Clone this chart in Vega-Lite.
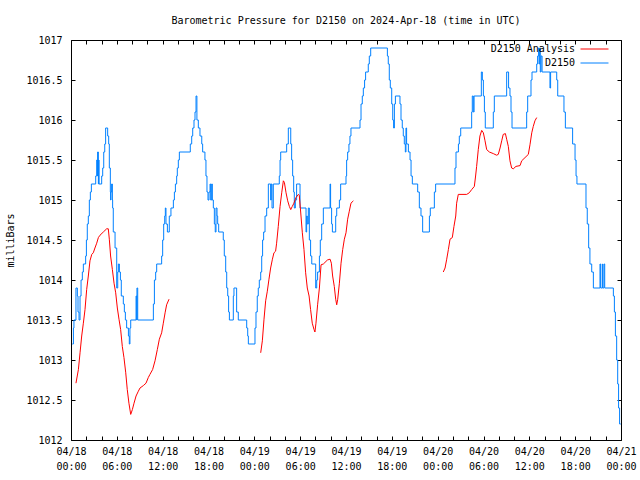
{
  "$schema": "https://vega.github.io/schema/vega-lite/v6.json",
  "width": 550,
  "height": 400,
  "autosize": {"type": "none"},
  "padding": {"left": 71, "top": 40, "right": 19, "bottom": 40},
  "background": "white",
  "title": {"text": "Barometric Pressure for D2150 on 2024-Apr-18 (time in UTC)", "font": "DejaVu Sans Mono", "fontSize": 10, "fontWeight": "normal", "color": "black", "offset": 9},
  "config": {
    "view": {"stroke": "black", "strokeWidth": 1},
    "font": "DejaVu Sans Mono",
    "axis": {"domain": false, "grid": false, "tickColor": "black", "tickSize": -4, "labelColor": "black", "labelFont": "DejaVu Sans Mono", "labelFontSize": 10, "titleFont": "DejaVu Sans Mono", "titleFontSize": 10, "titleFontWeight": "normal", "titleColor": "black"},
    "legend": {"labelFont": "DejaVu Sans Mono", "labelFontSize": 10, "labelColor": "black"}
  },
  "data": {"values": [
    {"series":"D2150","seg":1,"time":"2024-04-18T00:10:00Z","mbar":1013.2},
    {"series":"D2150","seg":1,"time":"2024-04-18T00:19:00Z","mbar":1013.4},
    {"series":"D2150","seg":1,"time":"2024-04-18T00:23:00Z","mbar":1013.5},
    {"series":"D2150","seg":1,"time":"2024-04-18T00:39:00Z","mbar":1013.9},
    {"series":"D2150","seg":1,"time":"2024-04-18T00:50:00Z","mbar":1013.8},
    {"series":"D2150","seg":1,"time":"2024-04-18T00:55:00Z","mbar":1013.6},
    {"series":"D2150","seg":1,"time":"2024-04-18T01:03:00Z","mbar":1013.5},
    {"series":"D2150","seg":1,"time":"2024-04-18T01:11:00Z","mbar":1013.8},
    {"series":"D2150","seg":1,"time":"2024-04-18T01:19:00Z","mbar":1014.0},
    {"series":"D2150","seg":1,"time":"2024-04-18T01:29:00Z","mbar":1014.1},
    {"series":"D2150","seg":1,"time":"2024-04-18T01:37:00Z","mbar":1014.2},
    {"series":"D2150","seg":1,"time":"2024-04-18T01:55:00Z","mbar":1014.3},
    {"series":"D2150","seg":1,"time":"2024-04-18T02:01:00Z","mbar":1014.5},
    {"series":"D2150","seg":1,"time":"2024-04-18T02:08:00Z","mbar":1014.7},
    {"series":"D2150","seg":1,"time":"2024-04-18T02:16:00Z","mbar":1014.8},
    {"series":"D2150","seg":1,"time":"2024-04-18T02:24:00Z","mbar":1015.0},
    {"series":"D2150","seg":1,"time":"2024-04-18T02:32:00Z","mbar":1015.1},
    {"series":"D2150","seg":1,"time":"2024-04-18T02:40:00Z","mbar":1015.2},
    {"series":"D2150","seg":1,"time":"2024-04-18T03:14:00Z","mbar":1015.3},
    {"series":"D2150","seg":1,"time":"2024-04-18T03:22:00Z","mbar":1015.5},
    {"series":"D2150","seg":1,"time":"2024-04-18T03:27:00Z","mbar":1015.3},
    {"series":"D2150","seg":1,"time":"2024-04-18T03:29:00Z","mbar":1015.6},
    {"series":"D2150","seg":1,"time":"2024-04-18T03:35:00Z","mbar":1015.2},
    {"series":"D2150","seg":1,"time":"2024-04-18T03:38:00Z","mbar":1015.5},
    {"series":"D2150","seg":1,"time":"2024-04-18T03:40:00Z","mbar":1015.2},
    {"series":"D2150","seg":1,"time":"2024-04-18T04:01:00Z","mbar":1015.3},
    {"series":"D2150","seg":1,"time":"2024-04-18T04:09:00Z","mbar":1015.4},
    {"series":"D2150","seg":1,"time":"2024-04-18T04:17:00Z","mbar":1015.6},
    {"series":"D2150","seg":1,"time":"2024-04-18T04:25:00Z","mbar":1015.7},
    {"series":"D2150","seg":1,"time":"2024-04-18T04:32:00Z","mbar":1015.9},
    {"series":"D2150","seg":1,"time":"2024-04-18T04:48:00Z","mbar":1015.8},
    {"series":"D2150","seg":1,"time":"2024-04-18T04:56:00Z","mbar":1015.7},
    {"series":"D2150","seg":1,"time":"2024-04-18T05:01:00Z","mbar":1015.4},
    {"series":"D2150","seg":1,"time":"2024-04-18T05:09:00Z","mbar":1015.1},
    {"series":"D2150","seg":1,"time":"2024-04-18T05:11:00Z","mbar":1015.0},
    {"series":"D2150","seg":1,"time":"2024-04-18T05:14:00Z","mbar":1015.1},
    {"series":"D2150","seg":1,"time":"2024-04-18T05:19:00Z","mbar":1015.2},
    {"series":"D2150","seg":1,"time":"2024-04-18T05:25:00Z","mbar":1015.0},
    {"series":"D2150","seg":1,"time":"2024-04-18T05:27:00Z","mbar":1014.9},
    {"series":"D2150","seg":1,"time":"2024-04-18T05:32:00Z","mbar":1014.6},
    {"series":"D2150","seg":1,"time":"2024-04-18T05:46:00Z","mbar":1014.4},
    {"series":"D2150","seg":1,"time":"2024-04-18T05:59:00Z","mbar":1013.9},
    {"series":"D2150","seg":1,"time":"2024-04-18T06:07:00Z","mbar":1014.1},
    {"series":"D2150","seg":1,"time":"2024-04-18T06:12:00Z","mbar":1014.2},
    {"series":"D2150","seg":1,"time":"2024-04-18T06:20:00Z","mbar":1014.1},
    {"series":"D2150","seg":1,"time":"2024-04-18T06:28:00Z","mbar":1014.0},
    {"series":"D2150","seg":1,"time":"2024-04-18T06:35:00Z","mbar":1013.8},
    {"series":"D2150","seg":1,"time":"2024-04-18T06:51:00Z","mbar":1013.7},
    {"series":"D2150","seg":1,"time":"2024-04-18T06:59:00Z","mbar":1013.6},
    {"series":"D2150","seg":1,"time":"2024-04-18T07:07:00Z","mbar":1013.5},
    {"series":"D2150","seg":1,"time":"2024-04-18T07:17:00Z","mbar":1013.4},
    {"series":"D2150","seg":1,"time":"2024-04-18T07:31:00Z","mbar":1013.3},
    {"series":"D2150","seg":1,"time":"2024-04-18T07:38:00Z","mbar":1013.2},
    {"series":"D2150","seg":1,"time":"2024-04-18T07:43:00Z","mbar":1013.4},
    {"series":"D2150","seg":1,"time":"2024-04-18T07:49:00Z","mbar":1013.5},
    {"series":"D2150","seg":1,"time":"2024-04-18T08:31:00Z","mbar":1013.8},
    {"series":"D2150","seg":1,"time":"2024-04-18T08:36:00Z","mbar":1013.5},
    {"series":"D2150","seg":1,"time":"2024-04-18T08:38:00Z","mbar":1013.9},
    {"series":"D2150","seg":1,"time":"2024-04-18T08:44:00Z","mbar":1013.5},
    {"series":"D2150","seg":1,"time":"2024-04-18T10:47:00Z","mbar":1013.7},
    {"series":"D2150","seg":1,"time":"2024-04-18T10:55:00Z","mbar":1014.0},
    {"series":"D2150","seg":1,"time":"2024-04-18T11:05:00Z","mbar":1014.1},
    {"series":"D2150","seg":1,"time":"2024-04-18T11:13:00Z","mbar":1014.2},
    {"series":"D2150","seg":1,"time":"2024-04-18T11:52:00Z","mbar":1014.3},
    {"series":"D2150","seg":1,"time":"2024-04-18T12:00:00Z","mbar":1014.5},
    {"series":"D2150","seg":1,"time":"2024-04-18T12:08:00Z","mbar":1014.7},
    {"series":"D2150","seg":1,"time":"2024-04-18T12:16:00Z","mbar":1014.8},
    {"series":"D2150","seg":1,"time":"2024-04-18T12:21:00Z","mbar":1014.9},
    {"series":"D2150","seg":1,"time":"2024-04-18T12:26:00Z","mbar":1014.7},
    {"series":"D2150","seg":1,"time":"2024-04-18T12:37:00Z","mbar":1014.6},
    {"series":"D2150","seg":1,"time":"2024-04-18T12:52:00Z","mbar":1014.8},
    {"series":"D2150","seg":1,"time":"2024-04-18T13:05:00Z","mbar":1014.9},
    {"series":"D2150","seg":1,"time":"2024-04-18T13:24:00Z","mbar":1015.0},
    {"series":"D2150","seg":1,"time":"2024-04-18T13:32:00Z","mbar":1015.1},
    {"series":"D2150","seg":1,"time":"2024-04-18T13:40:00Z","mbar":1015.2},
    {"series":"D2150","seg":1,"time":"2024-04-18T13:50:00Z","mbar":1015.3},
    {"series":"D2150","seg":1,"time":"2024-04-18T13:55:00Z","mbar":1015.4},
    {"series":"D2150","seg":1,"time":"2024-04-18T14:03:00Z","mbar":1015.5},
    {"series":"D2150","seg":1,"time":"2024-04-18T14:11:00Z","mbar":1015.6},
    {"series":"D2150","seg":1,"time":"2024-04-18T15:37:00Z","mbar":1015.7},
    {"series":"D2150","seg":1,"time":"2024-04-18T15:48:00Z","mbar":1015.8},
    {"series":"D2150","seg":1,"time":"2024-04-18T15:56:00Z","mbar":1015.9},
    {"series":"D2150","seg":1,"time":"2024-04-18T16:06:00Z","mbar":1016.0},
    {"series":"D2150","seg":1,"time":"2024-04-18T16:14:00Z","mbar":1016.1},
    {"series":"D2150","seg":1,"time":"2024-04-18T16:22:00Z","mbar":1016.3},
    {"series":"D2150","seg":1,"time":"2024-04-18T16:29:00Z","mbar":1016.0},
    {"series":"D2150","seg":1,"time":"2024-04-18T16:40:00Z","mbar":1015.9},
    {"series":"D2150","seg":1,"time":"2024-04-18T16:53:00Z","mbar":1015.8},
    {"series":"D2150","seg":1,"time":"2024-04-18T17:07:00Z","mbar":1015.7},
    {"series":"D2150","seg":1,"time":"2024-04-18T17:14:00Z","mbar":1015.6},
    {"series":"D2150","seg":1,"time":"2024-04-18T17:32:00Z","mbar":1015.5},
    {"series":"D2150","seg":1,"time":"2024-04-18T17:40:00Z","mbar":1015.3},
    {"series":"D2150","seg":1,"time":"2024-04-18T17:48:00Z","mbar":1015.1},
    {"series":"D2150","seg":1,"time":"2024-04-18T17:56:00Z","mbar":1015.0},
    {"series":"D2150","seg":1,"time":"2024-04-18T18:04:00Z","mbar":1015.1},
    {"series":"D2150","seg":1,"time":"2024-04-18T18:12:00Z","mbar":1015.2},
    {"series":"D2150","seg":1,"time":"2024-04-18T18:17:00Z","mbar":1015.0},
    {"series":"D2150","seg":1,"time":"2024-04-18T18:25:00Z","mbar":1015.2},
    {"series":"D2150","seg":1,"time":"2024-04-18T18:30:00Z","mbar":1015.0},
    {"series":"D2150","seg":1,"time":"2024-04-18T18:38:00Z","mbar":1014.9},
    {"series":"D2150","seg":1,"time":"2024-04-18T18:46:00Z","mbar":1014.7},
    {"series":"D2150","seg":1,"time":"2024-04-18T18:53:00Z","mbar":1014.6},
    {"series":"D2150","seg":1,"time":"2024-04-18T18:59:00Z","mbar":1014.9},
    {"series":"D2150","seg":1,"time":"2024-04-18T19:07:00Z","mbar":1014.8},
    {"series":"D2150","seg":1,"time":"2024-04-18T19:12:00Z","mbar":1014.7},
    {"series":"D2150","seg":1,"time":"2024-04-18T19:20:00Z","mbar":1014.6},
    {"series":"D2150","seg":1,"time":"2024-04-18T19:56:00Z","mbar":1014.5},
    {"series":"D2150","seg":1,"time":"2024-04-18T20:04:00Z","mbar":1014.3},
    {"series":"D2150","seg":1,"time":"2024-04-18T20:15:00Z","mbar":1014.1},
    {"series":"D2150","seg":1,"time":"2024-04-18T20:23:00Z","mbar":1013.9},
    {"series":"D2150","seg":1,"time":"2024-04-18T20:31:00Z","mbar":1013.8},
    {"series":"D2150","seg":1,"time":"2024-04-18T20:38:00Z","mbar":1013.6},
    {"series":"D2150","seg":1,"time":"2024-04-18T20:44:00Z","mbar":1013.5},
    {"series":"D2150","seg":1,"time":"2024-04-18T21:15:00Z","mbar":1013.8},
    {"series":"D2150","seg":1,"time":"2024-04-18T21:20:00Z","mbar":1013.9},
    {"series":"D2150","seg":1,"time":"2024-04-18T21:41:00Z","mbar":1013.6},
    {"series":"D2150","seg":1,"time":"2024-04-18T21:54:00Z","mbar":1013.5},
    {"series":"D2150","seg":1,"time":"2024-04-18T23:00:00Z","mbar":1013.4},
    {"series":"D2150","seg":1,"time":"2024-04-18T23:08:00Z","mbar":1013.3},
    {"series":"D2150","seg":1,"time":"2024-04-18T23:13:00Z","mbar":1013.2},
    {"series":"D2150","seg":1,"time":"2024-04-19T00:05:00Z","mbar":1013.4},
    {"series":"D2150","seg":1,"time":"2024-04-19T00:13:00Z","mbar":1013.6},
    {"series":"D2150","seg":1,"time":"2024-04-19T00:23:00Z","mbar":1013.8},
    {"series":"D2150","seg":1,"time":"2024-04-19T00:31:00Z","mbar":1013.9},
    {"series":"D2150","seg":1,"time":"2024-04-19T00:39:00Z","mbar":1014.0},
    {"series":"D2150","seg":1,"time":"2024-04-19T00:50:00Z","mbar":1014.1},
    {"series":"D2150","seg":1,"time":"2024-04-19T00:58:00Z","mbar":1014.3},
    {"series":"D2150","seg":1,"time":"2024-04-19T01:05:00Z","mbar":1014.5},
    {"series":"D2150","seg":1,"time":"2024-04-19T01:13:00Z","mbar":1014.6},
    {"series":"D2150","seg":1,"time":"2024-04-19T01:24:00Z","mbar":1014.8},
    {"series":"D2150","seg":1,"time":"2024-04-19T01:37:00Z","mbar":1014.9},
    {"series":"D2150","seg":1,"time":"2024-04-19T01:50:00Z","mbar":1015.2},
    {"series":"D2150","seg":1,"time":"2024-04-19T02:08:00Z","mbar":1015.0},
    {"series":"D2150","seg":1,"time":"2024-04-19T02:13:00Z","mbar":1015.2},
    {"series":"D2150","seg":1,"time":"2024-04-19T02:19:00Z","mbar":1014.9},
    {"series":"D2150","seg":1,"time":"2024-04-19T02:29:00Z","mbar":1015.2},
    {"series":"D2150","seg":1,"time":"2024-04-19T03:16:00Z","mbar":1015.3},
    {"series":"D2150","seg":1,"time":"2024-04-19T03:22:00Z","mbar":1015.5},
    {"series":"D2150","seg":1,"time":"2024-04-19T03:27:00Z","mbar":1015.6},
    {"series":"D2150","seg":1,"time":"2024-04-19T04:14:00Z","mbar":1015.7},
    {"series":"D2150","seg":1,"time":"2024-04-19T04:27:00Z","mbar":1015.9},
    {"series":"D2150","seg":1,"time":"2024-04-19T04:46:00Z","mbar":1015.7},
    {"series":"D2150","seg":1,"time":"2024-04-19T04:53:00Z","mbar":1015.5},
    {"series":"D2150","seg":1,"time":"2024-04-19T05:01:00Z","mbar":1015.3},
    {"series":"D2150","seg":1,"time":"2024-04-19T05:09:00Z","mbar":1015.1},
    {"series":"D2150","seg":1,"time":"2024-04-19T05:14:00Z","mbar":1014.9},
    {"series":"D2150","seg":1,"time":"2024-04-19T05:22:00Z","mbar":1015.0},
    {"series":"D2150","seg":1,"time":"2024-04-19T05:32:00Z","mbar":1015.2},
    {"series":"D2150","seg":1,"time":"2024-04-19T05:59:00Z","mbar":1014.9},
    {"series":"D2150","seg":1,"time":"2024-04-19T06:46:00Z","mbar":1014.6},
    {"series":"D2150","seg":1,"time":"2024-04-19T06:51:00Z","mbar":1014.8},
    {"series":"D2150","seg":1,"time":"2024-04-19T06:56:00Z","mbar":1014.7},
    {"series":"D2150","seg":1,"time":"2024-04-19T07:04:00Z","mbar":1014.9},
    {"series":"D2150","seg":1,"time":"2024-04-19T07:12:00Z","mbar":1014.5},
    {"series":"D2150","seg":1,"time":"2024-04-19T07:22:00Z","mbar":1014.3},
    {"series":"D2150","seg":1,"time":"2024-04-19T07:31:00Z","mbar":1014.2},
    {"series":"D2150","seg":1,"time":"2024-04-19T08:02:00Z","mbar":1013.9},
    {"series":"D2150","seg":1,"time":"2024-04-19T08:10:00Z","mbar":1014.0},
    {"series":"D2150","seg":1,"time":"2024-04-19T08:17:00Z","mbar":1014.1},
    {"series":"D2150","seg":1,"time":"2024-04-19T08:31:00Z","mbar":1014.3},
    {"series":"D2150","seg":1,"time":"2024-04-19T08:38:00Z","mbar":1014.5},
    {"series":"D2150","seg":1,"time":"2024-04-19T08:49:00Z","mbar":1014.7},
    {"series":"D2150","seg":1,"time":"2024-04-19T09:02:00Z","mbar":1014.9},
    {"series":"D2150","seg":1,"time":"2024-04-19T09:55:00Z","mbar":1015.2},
    {"series":"D2150","seg":1,"time":"2024-04-19T09:59:00Z","mbar":1014.9},
    {"series":"D2150","seg":1,"time":"2024-04-19T10:07:00Z","mbar":1014.7},
    {"series":"D2150","seg":1,"time":"2024-04-19T10:13:00Z","mbar":1014.6},
    {"series":"D2150","seg":1,"time":"2024-04-19T10:39:00Z","mbar":1014.8},
    {"series":"D2150","seg":1,"time":"2024-04-19T10:47:00Z","mbar":1014.9},
    {"series":"D2150","seg":1,"time":"2024-04-19T11:08:00Z","mbar":1015.0},
    {"series":"D2150","seg":1,"time":"2024-04-19T11:18:00Z","mbar":1015.2},
    {"series":"D2150","seg":1,"time":"2024-04-19T12:00:00Z","mbar":1015.3},
    {"series":"D2150","seg":1,"time":"2024-04-19T12:05:00Z","mbar":1015.5},
    {"series":"D2150","seg":1,"time":"2024-04-19T12:13:00Z","mbar":1015.6},
    {"series":"D2150","seg":1,"time":"2024-04-19T12:23:00Z","mbar":1015.7},
    {"series":"D2150","seg":1,"time":"2024-04-19T12:31:00Z","mbar":1015.8},
    {"series":"D2150","seg":1,"time":"2024-04-19T12:39:00Z","mbar":1015.9},
    {"series":"D2150","seg":1,"time":"2024-04-19T13:50:00Z","mbar":1016.0},
    {"series":"D2150","seg":1,"time":"2024-04-19T13:58:00Z","mbar":1016.2},
    {"series":"D2150","seg":1,"time":"2024-04-19T14:08:00Z","mbar":1016.3},
    {"series":"D2150","seg":1,"time":"2024-04-19T14:16:00Z","mbar":1016.4},
    {"series":"D2150","seg":1,"time":"2024-04-19T14:26:00Z","mbar":1016.5},
    {"series":"D2150","seg":1,"time":"2024-04-19T14:34:00Z","mbar":1016.6},
    {"series":"D2150","seg":1,"time":"2024-04-19T14:55:00Z","mbar":1016.7},
    {"series":"D2150","seg":1,"time":"2024-04-19T15:03:00Z","mbar":1016.8},
    {"series":"D2150","seg":1,"time":"2024-04-19T15:14:00Z","mbar":1016.9},
    {"series":"D2150","seg":1,"time":"2024-04-19T17:25:00Z","mbar":1016.8},
    {"series":"D2150","seg":1,"time":"2024-04-19T17:32:00Z","mbar":1016.7},
    {"series":"D2150","seg":1,"time":"2024-04-19T17:40:00Z","mbar":1016.5},
    {"series":"D2150","seg":1,"time":"2024-04-19T17:48:00Z","mbar":1016.4},
    {"series":"D2150","seg":1,"time":"2024-04-19T17:59:00Z","mbar":1016.2},
    {"series":"D2150","seg":1,"time":"2024-04-19T18:07:00Z","mbar":1016.0},
    {"series":"D2150","seg":1,"time":"2024-04-19T18:14:00Z","mbar":1015.9},
    {"series":"D2150","seg":1,"time":"2024-04-19T18:20:00Z","mbar":1016.2},
    {"series":"D2150","seg":1,"time":"2024-04-19T18:28:00Z","mbar":1016.3},
    {"series":"D2150","seg":1,"time":"2024-04-19T19:04:00Z","mbar":1016.2},
    {"series":"D2150","seg":1,"time":"2024-04-19T19:12:00Z","mbar":1016.0},
    {"series":"D2150","seg":1,"time":"2024-04-19T19:22:00Z","mbar":1015.9},
    {"series":"D2150","seg":1,"time":"2024-04-19T19:30:00Z","mbar":1015.8},
    {"series":"D2150","seg":1,"time":"2024-04-19T19:38:00Z","mbar":1015.7},
    {"series":"D2150","seg":1,"time":"2024-04-19T19:46:00Z","mbar":1015.6},
    {"series":"D2150","seg":1,"time":"2024-04-19T19:51:00Z","mbar":1015.9},
    {"series":"D2150","seg":1,"time":"2024-04-19T19:56:00Z","mbar":1015.7},
    {"series":"D2150","seg":1,"time":"2024-04-19T20:10:00Z","mbar":1015.6},
    {"series":"D2150","seg":1,"time":"2024-04-19T20:23:00Z","mbar":1015.5},
    {"series":"D2150","seg":1,"time":"2024-04-19T20:31:00Z","mbar":1015.3},
    {"series":"D2150","seg":1,"time":"2024-04-19T20:41:00Z","mbar":1015.2},
    {"series":"D2150","seg":1,"time":"2024-04-19T21:23:00Z","mbar":1015.1},
    {"series":"D2150","seg":1,"time":"2024-04-19T21:36:00Z","mbar":1014.9},
    {"series":"D2150","seg":1,"time":"2024-04-19T21:49:00Z","mbar":1014.8},
    {"series":"D2150","seg":1,"time":"2024-04-19T22:02:00Z","mbar":1014.6},
    {"series":"D2150","seg":1,"time":"2024-04-19T22:55:00Z","mbar":1014.8},
    {"series":"D2150","seg":1,"time":"2024-04-19T23:02:00Z","mbar":1014.9},
    {"series":"D2150","seg":1,"time":"2024-04-19T23:34:00Z","mbar":1015.1},
    {"series":"D2150","seg":1,"time":"2024-04-19T23:44:00Z","mbar":1015.2},
    {"series":"D2150","seg":1,"time":"2024-04-20T02:16:00Z","mbar":1015.4},
    {"series":"D2150","seg":1,"time":"2024-04-20T02:24:00Z","mbar":1015.6},
    {"series":"D2150","seg":1,"time":"2024-04-20T02:43:00Z","mbar":1015.7},
    {"series":"D2150","seg":1,"time":"2024-04-20T02:50:00Z","mbar":1015.8},
    {"series":"D2150","seg":1,"time":"2024-04-20T03:01:00Z","mbar":1015.9},
    {"series":"D2150","seg":1,"time":"2024-04-20T04:27:00Z","mbar":1016.1},
    {"series":"D2150","seg":1,"time":"2024-04-20T04:32:00Z","mbar":1016.3},
    {"series":"D2150","seg":1,"time":"2024-04-20T04:40:00Z","mbar":1016.1},
    {"series":"D2150","seg":1,"time":"2024-04-20T04:46:00Z","mbar":1016.3},
    {"series":"D2150","seg":1,"time":"2024-04-20T05:43:00Z","mbar":1016.6},
    {"series":"D2150","seg":1,"time":"2024-04-20T05:51:00Z","mbar":1016.5},
    {"series":"D2150","seg":1,"time":"2024-04-20T05:59:00Z","mbar":1016.3},
    {"series":"D2150","seg":1,"time":"2024-04-20T06:07:00Z","mbar":1016.1},
    {"series":"D2150","seg":1,"time":"2024-04-20T06:14:00Z","mbar":1015.9},
    {"series":"D2150","seg":1,"time":"2024-04-20T07:17:00Z","mbar":1016.1},
    {"series":"D2150","seg":1,"time":"2024-04-20T07:25:00Z","mbar":1016.3},
    {"series":"D2150","seg":1,"time":"2024-04-20T09:02:00Z","mbar":1016.6},
    {"series":"D2150","seg":1,"time":"2024-04-20T09:17:00Z","mbar":1016.4},
    {"series":"D2150","seg":1,"time":"2024-04-20T09:28:00Z","mbar":1016.3},
    {"series":"D2150","seg":1,"time":"2024-04-20T09:36:00Z","mbar":1016.1},
    {"series":"D2150","seg":1,"time":"2024-04-20T09:44:00Z","mbar":1015.9},
    {"series":"D2150","seg":1,"time":"2024-04-20T11:39:00Z","mbar":1016.1},
    {"series":"D2150","seg":1,"time":"2024-04-20T11:47:00Z","mbar":1016.3},
    {"series":"D2150","seg":1,"time":"2024-04-20T12:13:00Z","mbar":1016.5},
    {"series":"D2150","seg":1,"time":"2024-04-20T12:21:00Z","mbar":1016.6},
    {"series":"D2150","seg":1,"time":"2024-04-20T12:58:00Z","mbar":1016.7},
    {"series":"D2150","seg":1,"time":"2024-04-20T13:05:00Z","mbar":1016.8},
    {"series":"D2150","seg":1,"time":"2024-04-20T13:13:00Z","mbar":1016.9},
    {"series":"D2150","seg":1,"time":"2024-04-20T13:16:00Z","mbar":1016.7},
    {"series":"D2150","seg":1,"time":"2024-04-20T13:21:00Z","mbar":1016.9},
    {"series":"D2150","seg":1,"time":"2024-04-20T13:26:00Z","mbar":1016.6},
    {"series":"D2150","seg":1,"time":"2024-04-20T13:32:00Z","mbar":1016.8},
    {"series":"D2150","seg":1,"time":"2024-04-20T13:40:00Z","mbar":1016.6},
    {"series":"D2150","seg":1,"time":"2024-04-20T14:42:00Z","mbar":1016.4},
    {"series":"D2150","seg":1,"time":"2024-04-20T14:47:00Z","mbar":1016.6},
    {"series":"D2150","seg":1,"time":"2024-04-20T15:35:00Z","mbar":1016.5},
    {"series":"D2150","seg":1,"time":"2024-04-20T15:43:00Z","mbar":1016.3},
    {"series":"D2150","seg":1,"time":"2024-04-20T16:32:00Z","mbar":1016.1},
    {"series":"D2150","seg":1,"time":"2024-04-20T16:43:00Z","mbar":1015.9},
    {"series":"D2150","seg":1,"time":"2024-04-20T17:40:00Z","mbar":1015.7},
    {"series":"D2150","seg":1,"time":"2024-04-20T17:59:00Z","mbar":1015.5},
    {"series":"D2150","seg":1,"time":"2024-04-20T18:07:00Z","mbar":1015.3},
    {"series":"D2150","seg":1,"time":"2024-04-20T18:14:00Z","mbar":1015.2},
    {"series":"D2150","seg":1,"time":"2024-04-20T19:25:00Z","mbar":1014.9},
    {"series":"D2150","seg":1,"time":"2024-04-20T19:35:00Z","mbar":1014.7},
    {"series":"D2150","seg":1,"time":"2024-04-20T19:46:00Z","mbar":1014.4},
    {"series":"D2150","seg":1,"time":"2024-04-20T19:56:00Z","mbar":1014.2},
    {"series":"D2150","seg":1,"time":"2024-04-20T20:10:00Z","mbar":1014.1},
    {"series":"D2150","seg":1,"time":"2024-04-20T20:23:00Z","mbar":1013.9},
    {"series":"D2150","seg":1,"time":"2024-04-20T21:15:00Z","mbar":1014.2},
    {"series":"D2150","seg":1,"time":"2024-04-20T21:20:00Z","mbar":1013.9},
    {"series":"D2150","seg":1,"time":"2024-04-20T21:33:00Z","mbar":1014.2},
    {"series":"D2150","seg":1,"time":"2024-04-20T21:36:00Z","mbar":1013.9},
    {"series":"D2150","seg":1,"time":"2024-04-20T21:46:00Z","mbar":1014.2},
    {"series":"D2150","seg":1,"time":"2024-04-20T21:52:00Z","mbar":1013.9},
    {"series":"D2150","seg":1,"time":"2024-04-20T23:00:00Z","mbar":1013.8},
    {"series":"D2150","seg":1,"time":"2024-04-20T23:08:00Z","mbar":1013.6},
    {"series":"D2150","seg":1,"time":"2024-04-20T23:16:00Z","mbar":1013.3},
    {"series":"D2150","seg":1,"time":"2024-04-20T23:26:00Z","mbar":1013.0},
    {"series":"D2150","seg":1,"time":"2024-04-20T23:34:00Z","mbar":1012.7},
    {"series":"D2150","seg":1,"time":"2024-04-20T23:41:00Z","mbar":1012.4},
    {"series":"D2150","seg":1,"time":"2024-04-20T23:49:00Z","mbar":1012.2},
    {"series":"D2150","seg":1,"time":"2024-04-20T23:58:00Z","mbar":1012.2},

    {"series":"D2150 Analysis","seg":1,"time":"2024-04-18T00:39:00Z","mbar":1012.71},
    {"series":"D2150 Analysis","seg":1,"time":"2024-04-18T00:58:00Z","mbar":1012.88},
    {"series":"D2150 Analysis","seg":1,"time":"2024-04-18T01:11:00Z","mbar":1013.09},
    {"series":"D2150 Analysis","seg":1,"time":"2024-04-18T01:24:00Z","mbar":1013.30},
    {"series":"D2150 Analysis","seg":1,"time":"2024-04-18T01:37:00Z","mbar":1013.46},
    {"series":"D2150 Analysis","seg":1,"time":"2024-04-18T01:50:00Z","mbar":1013.63},
    {"series":"D2150 Analysis","seg":1,"time":"2024-04-18T02:03:00Z","mbar":1013.88},
    {"series":"D2150 Analysis","seg":1,"time":"2024-04-18T02:16:00Z","mbar":1014.05},
    {"series":"D2150 Analysis","seg":1,"time":"2024-04-18T02:29:00Z","mbar":1014.24},
    {"series":"D2150 Analysis","seg":1,"time":"2024-04-18T02:43:00Z","mbar":1014.32},
    {"series":"D2150 Analysis","seg":1,"time":"2024-04-18T02:55:00Z","mbar":1014.34},
    {"series":"D2150 Analysis","seg":1,"time":"2024-04-18T03:08:00Z","mbar":1014.40},
    {"series":"D2150 Analysis","seg":1,"time":"2024-04-18T03:22:00Z","mbar":1014.46},
    {"series":"D2150 Analysis","seg":1,"time":"2024-04-18T03:35:00Z","mbar":1014.53},
    {"series":"D2150 Analysis","seg":1,"time":"2024-04-18T03:48:00Z","mbar":1014.56},
    {"series":"D2150 Analysis","seg":1,"time":"2024-04-18T04:14:00Z","mbar":1014.60},
    {"series":"D2150 Analysis","seg":1,"time":"2024-04-18T04:40:00Z","mbar":1014.64},
    {"series":"D2150 Analysis","seg":1,"time":"2024-04-18T04:53:00Z","mbar":1014.64},
    {"series":"D2150 Analysis","seg":1,"time":"2024-04-18T05:01:00Z","mbar":1014.51},
    {"series":"D2150 Analysis","seg":1,"time":"2024-04-18T05:11:00Z","mbar":1014.30},
    {"series":"D2150 Analysis","seg":1,"time":"2024-04-18T05:25:00Z","mbar":1014.13},
    {"series":"D2150 Analysis","seg":1,"time":"2024-04-18T05:38:00Z","mbar":1013.96},
    {"series":"D2150 Analysis","seg":1,"time":"2024-04-18T05:51:00Z","mbar":1013.84},
    {"series":"D2150 Analysis","seg":1,"time":"2024-04-18T06:04:00Z","mbar":1013.65},
    {"series":"D2150 Analysis","seg":1,"time":"2024-04-18T06:17:00Z","mbar":1013.51},
    {"series":"D2150 Analysis","seg":1,"time":"2024-04-18T06:30:00Z","mbar":1013.38},
    {"series":"D2150 Analysis","seg":1,"time":"2024-04-18T06:43:00Z","mbar":1013.17},
    {"series":"D2150 Analysis","seg":1,"time":"2024-04-18T06:56:00Z","mbar":1013.03},
    {"series":"D2150 Analysis","seg":1,"time":"2024-04-18T07:10:00Z","mbar":1012.84},
    {"series":"D2150 Analysis","seg":1,"time":"2024-04-18T07:22:00Z","mbar":1012.63},
    {"series":"D2150 Analysis","seg":1,"time":"2024-04-18T07:35:00Z","mbar":1012.46},
    {"series":"D2150 Analysis","seg":1,"time":"2024-04-18T07:49:00Z","mbar":1012.32},
    {"series":"D2150 Analysis","seg":1,"time":"2024-04-18T08:02:00Z","mbar":1012.38},
    {"series":"D2150 Analysis","seg":1,"time":"2024-04-18T08:15:00Z","mbar":1012.46},
    {"series":"D2150 Analysis","seg":1,"time":"2024-04-18T08:31:00Z","mbar":1012.55},
    {"series":"D2150 Analysis","seg":1,"time":"2024-04-18T08:49:00Z","mbar":1012.61},
    {"series":"D2150 Analysis","seg":1,"time":"2024-04-18T09:02:00Z","mbar":1012.65},
    {"series":"D2150 Analysis","seg":1,"time":"2024-04-18T09:28:00Z","mbar":1012.68},
    {"series":"D2150 Analysis","seg":1,"time":"2024-04-18T09:49:00Z","mbar":1012.71},
    {"series":"D2150 Analysis","seg":1,"time":"2024-04-18T10:07:00Z","mbar":1012.78},
    {"series":"D2150 Analysis","seg":1,"time":"2024-04-18T10:20:00Z","mbar":1012.82},
    {"series":"D2150 Analysis","seg":1,"time":"2024-04-18T10:41:00Z","mbar":1012.88},
    {"series":"D2150 Analysis","seg":1,"time":"2024-04-18T11:00:00Z","mbar":1012.99},
    {"series":"D2150 Analysis","seg":1,"time":"2024-04-18T11:18:00Z","mbar":1013.13},
    {"series":"D2150 Analysis","seg":1,"time":"2024-04-18T11:34:00Z","mbar":1013.26},
    {"series":"D2150 Analysis","seg":1,"time":"2024-04-18T11:52:00Z","mbar":1013.34},
    {"series":"D2150 Analysis","seg":1,"time":"2024-04-18T12:05:00Z","mbar":1013.46},
    {"series":"D2150 Analysis","seg":1,"time":"2024-04-18T12:19:00Z","mbar":1013.59},
    {"series":"D2150 Analysis","seg":1,"time":"2024-04-18T12:31:00Z","mbar":1013.69},
    {"series":"D2150 Analysis","seg":1,"time":"2024-04-18T12:50:00Z","mbar":1013.76},

    {"series":"D2150 Analysis","seg":2,"time":"2024-04-19T00:50:00Z","mbar":1013.09},
    {"series":"D2150 Analysis","seg":2,"time":"2024-04-19T01:03:00Z","mbar":1013.24},
    {"series":"D2150 Analysis","seg":2,"time":"2024-04-19T01:16:00Z","mbar":1013.51},
    {"series":"D2150 Analysis","seg":2,"time":"2024-04-19T01:29:00Z","mbar":1013.74},
    {"series":"D2150 Analysis","seg":2,"time":"2024-04-19T01:42:00Z","mbar":1013.86},
    {"series":"D2150 Analysis","seg":2,"time":"2024-04-19T01:55:00Z","mbar":1014.01},
    {"series":"D2150 Analysis","seg":2,"time":"2024-04-19T02:08:00Z","mbar":1014.15},
    {"series":"D2150 Analysis","seg":2,"time":"2024-04-19T02:22:00Z","mbar":1014.26},
    {"series":"D2150 Analysis","seg":2,"time":"2024-04-19T02:34:00Z","mbar":1014.34},
    {"series":"D2150 Analysis","seg":2,"time":"2024-04-19T02:47:00Z","mbar":1014.36},
    {"series":"D2150 Analysis","seg":2,"time":"2024-04-19T02:55:00Z","mbar":1014.46},
    {"series":"D2150 Analysis","seg":2,"time":"2024-04-19T03:08:00Z","mbar":1014.67},
    {"series":"D2150 Analysis","seg":2,"time":"2024-04-19T03:22:00Z","mbar":1014.92},
    {"series":"D2150 Analysis","seg":2,"time":"2024-04-19T03:35:00Z","mbar":1015.09},
    {"series":"D2150 Analysis","seg":2,"time":"2024-04-19T03:48:00Z","mbar":1015.24},
    {"series":"D2150 Analysis","seg":2,"time":"2024-04-19T03:56:00Z","mbar":1015.22},
    {"series":"D2150 Analysis","seg":2,"time":"2024-04-19T04:09:00Z","mbar":1015.09},
    {"series":"D2150 Analysis","seg":2,"time":"2024-04-19T04:22:00Z","mbar":1014.99},
    {"series":"D2150 Analysis","seg":2,"time":"2024-04-19T04:35:00Z","mbar":1014.92},
    {"series":"D2150 Analysis","seg":2,"time":"2024-04-19T04:46:00Z","mbar":1014.88},
    {"series":"D2150 Analysis","seg":2,"time":"2024-04-19T04:58:00Z","mbar":1014.92},
    {"series":"D2150 Analysis","seg":2,"time":"2024-04-19T05:11:00Z","mbar":1014.96},
    {"series":"D2150 Analysis","seg":2,"time":"2024-04-19T05:27:00Z","mbar":1015.03},
    {"series":"D2150 Analysis","seg":2,"time":"2024-04-19T05:46:00Z","mbar":1015.07},
    {"series":"D2150 Analysis","seg":2,"time":"2024-04-19T05:53:00Z","mbar":1015.06},
    {"series":"D2150 Analysis","seg":2,"time":"2024-04-19T06:04:00Z","mbar":1014.85},
    {"series":"D2150 Analysis","seg":2,"time":"2024-04-19T06:17:00Z","mbar":1014.59},
    {"series":"D2150 Analysis","seg":2,"time":"2024-04-19T06:30:00Z","mbar":1014.38},
    {"series":"D2150 Analysis","seg":2,"time":"2024-04-19T06:43:00Z","mbar":1014.09},
    {"series":"D2150 Analysis","seg":2,"time":"2024-04-19T06:56:00Z","mbar":1013.90},
    {"series":"D2150 Analysis","seg":2,"time":"2024-04-19T07:10:00Z","mbar":1013.80},
    {"series":"D2150 Analysis","seg":2,"time":"2024-04-19T07:22:00Z","mbar":1013.63},
    {"series":"D2150 Analysis","seg":2,"time":"2024-04-19T07:35:00Z","mbar":1013.46},
    {"series":"D2150 Analysis","seg":2,"time":"2024-04-19T07:49:00Z","mbar":1013.38},
    {"series":"D2150 Analysis","seg":2,"time":"2024-04-19T07:56:00Z","mbar":1013.35},
    {"series":"D2150 Analysis","seg":2,"time":"2024-04-19T08:04:00Z","mbar":1013.46},
    {"series":"D2150 Analysis","seg":2,"time":"2024-04-19T08:17:00Z","mbar":1013.69},
    {"series":"D2150 Analysis","seg":2,"time":"2024-04-19T08:31:00Z","mbar":1013.90},
    {"series":"D2150 Analysis","seg":2,"time":"2024-04-19T08:44:00Z","mbar":1014.19},
    {"series":"D2150 Analysis","seg":2,"time":"2024-04-19T09:02:00Z","mbar":1014.20},
    {"series":"D2150 Analysis","seg":2,"time":"2024-04-19T09:15:00Z","mbar":1014.22},
    {"series":"D2150 Analysis","seg":2,"time":"2024-04-19T09:34:00Z","mbar":1014.25},
    {"series":"D2150 Analysis","seg":2,"time":"2024-04-19T09:55:00Z","mbar":1014.26},
    {"series":"D2150 Analysis","seg":2,"time":"2024-04-19T10:05:00Z","mbar":1014.21},
    {"series":"D2150 Analysis","seg":2,"time":"2024-04-19T10:15:00Z","mbar":1014.05},
    {"series":"D2150 Analysis","seg":2,"time":"2024-04-19T10:28:00Z","mbar":1013.92},
    {"series":"D2150 Analysis","seg":2,"time":"2024-04-19T10:39:00Z","mbar":1013.76},
    {"series":"D2150 Analysis","seg":2,"time":"2024-04-19T10:47:00Z","mbar":1013.69},
    {"series":"D2150 Analysis","seg":2,"time":"2024-04-19T10:55:00Z","mbar":1013.76},
    {"series":"D2150 Analysis","seg":2,"time":"2024-04-19T11:08:00Z","mbar":1013.96},
    {"series":"D2150 Analysis","seg":2,"time":"2024-04-19T11:21:00Z","mbar":1014.21},
    {"series":"D2150 Analysis","seg":2,"time":"2024-04-19T11:34:00Z","mbar":1014.38},
    {"series":"D2150 Analysis","seg":2,"time":"2024-04-19T11:47:00Z","mbar":1014.51},
    {"series":"D2150 Analysis","seg":2,"time":"2024-04-19T12:00:00Z","mbar":1014.59},
    {"series":"D2150 Analysis","seg":2,"time":"2024-04-19T12:13:00Z","mbar":1014.76},
    {"series":"D2150 Analysis","seg":2,"time":"2024-04-19T12:26:00Z","mbar":1014.86},
    {"series":"D2150 Analysis","seg":2,"time":"2024-04-19T12:39:00Z","mbar":1014.96},
    {"series":"D2150 Analysis","seg":2,"time":"2024-04-19T12:58:00Z","mbar":1014.99},

    {"series":"D2150 Analysis","seg":3,"time":"2024-04-20T00:44:00Z","mbar":1014.10},
    {"series":"D2150 Analysis","seg":3,"time":"2024-04-20T00:58:00Z","mbar":1014.15},
    {"series":"D2150 Analysis","seg":3,"time":"2024-04-20T01:11:00Z","mbar":1014.26},
    {"series":"D2150 Analysis","seg":3,"time":"2024-04-20T01:24:00Z","mbar":1014.38},
    {"series":"D2150 Analysis","seg":3,"time":"2024-04-20T01:37:00Z","mbar":1014.51},
    {"series":"D2150 Analysis","seg":3,"time":"2024-04-20T01:55:00Z","mbar":1014.53},
    {"series":"D2150 Analysis","seg":3,"time":"2024-04-20T02:08:00Z","mbar":1014.67},
    {"series":"D2150 Analysis","seg":3,"time":"2024-04-20T02:22:00Z","mbar":1014.80},
    {"series":"D2150 Analysis","seg":3,"time":"2024-04-20T02:29:00Z","mbar":1014.96},
    {"series":"D2150 Analysis","seg":3,"time":"2024-04-20T02:42:00Z","mbar":1015.07},
    {"series":"D2150 Analysis","seg":3,"time":"2024-04-20T03:48:00Z","mbar":1015.07},
    {"series":"D2150 Analysis","seg":3,"time":"2024-04-20T04:08:00Z","mbar":1015.09},
    {"series":"D2150 Analysis","seg":3,"time":"2024-04-20T04:27:00Z","mbar":1015.13},
    {"series":"D2150 Analysis","seg":3,"time":"2024-04-20T04:48:00Z","mbar":1015.17},
    {"series":"D2150 Analysis","seg":3,"time":"2024-04-20T04:58:00Z","mbar":1015.30},
    {"series":"D2150 Analysis","seg":3,"time":"2024-04-20T05:06:00Z","mbar":1015.42},
    {"series":"D2150 Analysis","seg":3,"time":"2024-04-20T05:19:00Z","mbar":1015.63},
    {"series":"D2150 Analysis","seg":3,"time":"2024-04-20T05:32:00Z","mbar":1015.80},
    {"series":"D2150 Analysis","seg":3,"time":"2024-04-20T05:46:00Z","mbar":1015.87},
    {"series":"D2150 Analysis","seg":3,"time":"2024-04-20T05:59:00Z","mbar":1015.84},
    {"series":"D2150 Analysis","seg":3,"time":"2024-04-20T06:12:00Z","mbar":1015.74},
    {"series":"D2150 Analysis","seg":3,"time":"2024-04-20T06:25:00Z","mbar":1015.63},
    {"series":"D2150 Analysis","seg":3,"time":"2024-04-20T06:46:00Z","mbar":1015.60},
    {"series":"D2150 Analysis","seg":3,"time":"2024-04-20T07:17:00Z","mbar":1015.58},
    {"series":"D2150 Analysis","seg":3,"time":"2024-04-20T07:43:00Z","mbar":1015.56},
    {"series":"D2150 Analysis","seg":3,"time":"2024-04-20T07:56:00Z","mbar":1015.57},
    {"series":"D2150 Analysis","seg":3,"time":"2024-04-20T08:10:00Z","mbar":1015.65},
    {"series":"D2150 Analysis","seg":3,"time":"2024-04-20T08:23:00Z","mbar":1015.74},
    {"series":"D2150 Analysis","seg":3,"time":"2024-04-20T08:35:00Z","mbar":1015.82},
    {"series":"D2150 Analysis","seg":3,"time":"2024-04-20T08:52:00Z","mbar":1015.83},
    {"series":"D2150 Analysis","seg":3,"time":"2024-04-20T09:02:00Z","mbar":1015.76},
    {"series":"D2150 Analysis","seg":3,"time":"2024-04-20T09:15:00Z","mbar":1015.67},
    {"series":"D2150 Analysis","seg":3,"time":"2024-04-20T09:28:00Z","mbar":1015.49},
    {"series":"D2150 Analysis","seg":3,"time":"2024-04-20T09:41:00Z","mbar":1015.40},
    {"series":"D2150 Analysis","seg":3,"time":"2024-04-20T09:54:00Z","mbar":1015.39},
    {"series":"D2150 Analysis","seg":3,"time":"2024-04-20T10:15:00Z","mbar":1015.42},
    {"series":"D2150 Analysis","seg":3,"time":"2024-04-20T10:47:00Z","mbar":1015.43},
    {"series":"D2150 Analysis","seg":3,"time":"2024-04-20T11:00:00Z","mbar":1015.49},
    {"series":"D2150 Analysis","seg":3,"time":"2024-04-20T11:26:00Z","mbar":1015.53},
    {"series":"D2150 Analysis","seg":3,"time":"2024-04-20T11:52:00Z","mbar":1015.57},
    {"series":"D2150 Analysis","seg":3,"time":"2024-04-20T12:05:00Z","mbar":1015.69},
    {"series":"D2150 Analysis","seg":3,"time":"2024-04-20T12:19:00Z","mbar":1015.84},
    {"series":"D2150 Analysis","seg":3,"time":"2024-04-20T12:31:00Z","mbar":1015.92},
    {"series":"D2150 Analysis","seg":3,"time":"2024-04-20T12:44:00Z","mbar":1015.99},
    {"series":"D2150 Analysis","seg":3,"time":"2024-04-20T12:58:00Z","mbar":1016.03}
  ]},
  "resolve": {"axis": {"x": "independent", "y": "independent"}},
  "layer": [
    {
      "transform": [{"filter": "datum.series === 'D2150'"}],
      "mark": {"type": "line", "interpolate": "step-after", "strokeWidth": 1, "clip": true},
      "encoding": {
        "x": {"field": "time", "type": "temporal",
              "scale": {"type": "utc", "domain": [{"year": 2024, "month": 4, "date": 18, "utc": true}, {"year": 2024, "month": 4, "date": 21, "utc": true}]},
              "axis": {"orient": "bottom", "title": null, "labelOverlap": false, "labelFlush": false, "labelPadding": 10, "labelLineHeight": 15, "labelBaseline": "top",
                       "values": [
                         {"year":2024,"month":4,"date":18,"hours":0,"utc":true},{"year":2024,"month":4,"date":18,"hours":2,"utc":true},{"year":2024,"month":4,"date":18,"hours":4,"utc":true},{"year":2024,"month":4,"date":18,"hours":6,"utc":true},{"year":2024,"month":4,"date":18,"hours":8,"utc":true},{"year":2024,"month":4,"date":18,"hours":10,"utc":true},{"year":2024,"month":4,"date":18,"hours":12,"utc":true},{"year":2024,"month":4,"date":18,"hours":14,"utc":true},{"year":2024,"month":4,"date":18,"hours":16,"utc":true},{"year":2024,"month":4,"date":18,"hours":18,"utc":true},{"year":2024,"month":4,"date":18,"hours":20,"utc":true},{"year":2024,"month":4,"date":18,"hours":22,"utc":true},
                         {"year":2024,"month":4,"date":19,"hours":0,"utc":true},{"year":2024,"month":4,"date":19,"hours":2,"utc":true},{"year":2024,"month":4,"date":19,"hours":4,"utc":true},{"year":2024,"month":4,"date":19,"hours":6,"utc":true},{"year":2024,"month":4,"date":19,"hours":8,"utc":true},{"year":2024,"month":4,"date":19,"hours":10,"utc":true},{"year":2024,"month":4,"date":19,"hours":12,"utc":true},{"year":2024,"month":4,"date":19,"hours":14,"utc":true},{"year":2024,"month":4,"date":19,"hours":16,"utc":true},{"year":2024,"month":4,"date":19,"hours":18,"utc":true},{"year":2024,"month":4,"date":19,"hours":20,"utc":true},{"year":2024,"month":4,"date":19,"hours":22,"utc":true},
                         {"year":2024,"month":4,"date":20,"hours":0,"utc":true},{"year":2024,"month":4,"date":20,"hours":2,"utc":true},{"year":2024,"month":4,"date":20,"hours":4,"utc":true},{"year":2024,"month":4,"date":20,"hours":6,"utc":true},{"year":2024,"month":4,"date":20,"hours":8,"utc":true},{"year":2024,"month":4,"date":20,"hours":10,"utc":true},{"year":2024,"month":4,"date":20,"hours":12,"utc":true},{"year":2024,"month":4,"date":20,"hours":14,"utc":true},{"year":2024,"month":4,"date":20,"hours":16,"utc":true},{"year":2024,"month":4,"date":20,"hours":18,"utc":true},{"year":2024,"month":4,"date":20,"hours":20,"utc":true},{"year":2024,"month":4,"date":20,"hours":22,"utc":true},
                         {"year":2024,"month":4,"date":21,"hours":0,"utc":true}],
                       "labelExpr": "utchours(datum.value) % 6 == 0 ? [utcFormat(datum.value, '%m/%d'), utcFormat(datum.value, '%H:%M')] : ''"}},
        "y": {"field": "mbar", "type": "quantitative",
              "scale": {"domain": [1012, 1017], "zero": false, "nice": false},
              "axis": {"orient": "left", "title": "milliBars", "values": [1012, 1012.5, 1013, 1013.5, 1014, 1014.5, 1015, 1015.5, 1016, 1016.5, 1017], "format": "~g", "labelPadding": 13, "titlePadding": 10}},
        "color": {"field": "series", "type": "nominal",
                  "scale": {"domain": ["D2150 Analysis", "D2150"], "range": ["#ff0000", "#0080ff"]},
                  "legend": {"title": null, "orient": "none", "legendX": 517, "legendY": 2.5, "padding": 0, "symbolType": "M-2.333,0H2.333", "symbolSize": 144, "symbolStrokeWidth": 1, "labelAlign": "right", "labelOffset": -26, "rowPadding": 2}}
      }
    },
    {
      "transform": [{"filter": "datum.series === 'D2150 Analysis'"}],
      "mark": {"type": "line", "strokeWidth": 1, "clip": true},
      "encoding": {
        "x": {"field": "time", "type": "temporal",
              "axis": {"orient": "top", "title": null, "labels": false, "values": [
                         {"year":2024,"month":4,"date":18,"hours":0,"utc":true},{"year":2024,"month":4,"date":18,"hours":2,"utc":true},{"year":2024,"month":4,"date":18,"hours":4,"utc":true},{"year":2024,"month":4,"date":18,"hours":6,"utc":true},{"year":2024,"month":4,"date":18,"hours":8,"utc":true},{"year":2024,"month":4,"date":18,"hours":10,"utc":true},{"year":2024,"month":4,"date":18,"hours":12,"utc":true},{"year":2024,"month":4,"date":18,"hours":14,"utc":true},{"year":2024,"month":4,"date":18,"hours":16,"utc":true},{"year":2024,"month":4,"date":18,"hours":18,"utc":true},{"year":2024,"month":4,"date":18,"hours":20,"utc":true},{"year":2024,"month":4,"date":18,"hours":22,"utc":true},
                         {"year":2024,"month":4,"date":19,"hours":0,"utc":true},{"year":2024,"month":4,"date":19,"hours":2,"utc":true},{"year":2024,"month":4,"date":19,"hours":4,"utc":true},{"year":2024,"month":4,"date":19,"hours":6,"utc":true},{"year":2024,"month":4,"date":19,"hours":8,"utc":true},{"year":2024,"month":4,"date":19,"hours":10,"utc":true},{"year":2024,"month":4,"date":19,"hours":12,"utc":true},{"year":2024,"month":4,"date":19,"hours":14,"utc":true},{"year":2024,"month":4,"date":19,"hours":16,"utc":true},{"year":2024,"month":4,"date":19,"hours":18,"utc":true},{"year":2024,"month":4,"date":19,"hours":20,"utc":true},{"year":2024,"month":4,"date":19,"hours":22,"utc":true},
                         {"year":2024,"month":4,"date":20,"hours":0,"utc":true},{"year":2024,"month":4,"date":20,"hours":2,"utc":true},{"year":2024,"month":4,"date":20,"hours":4,"utc":true},{"year":2024,"month":4,"date":20,"hours":6,"utc":true},{"year":2024,"month":4,"date":20,"hours":8,"utc":true},{"year":2024,"month":4,"date":20,"hours":10,"utc":true},{"year":2024,"month":4,"date":20,"hours":12,"utc":true},{"year":2024,"month":4,"date":20,"hours":14,"utc":true},{"year":2024,"month":4,"date":20,"hours":16,"utc":true},{"year":2024,"month":4,"date":20,"hours":18,"utc":true},{"year":2024,"month":4,"date":20,"hours":20,"utc":true},{"year":2024,"month":4,"date":20,"hours":22,"utc":true},
                         {"year":2024,"month":4,"date":21,"hours":0,"utc":true}]}},
        "y": {"field": "mbar", "type": "quantitative",
              "axis": {"orient": "right", "title": null, "values": [1012, 1012.5, 1013, 1013.5, 1014, 1014.5, 1015, 1015.5, 1016, 1016.5, 1017], "labels": false}},
        "color": {"field": "series", "type": "nominal"},
        "detail": {"field": "seg", "type": "nominal"}
      }
    }
  ]
}
